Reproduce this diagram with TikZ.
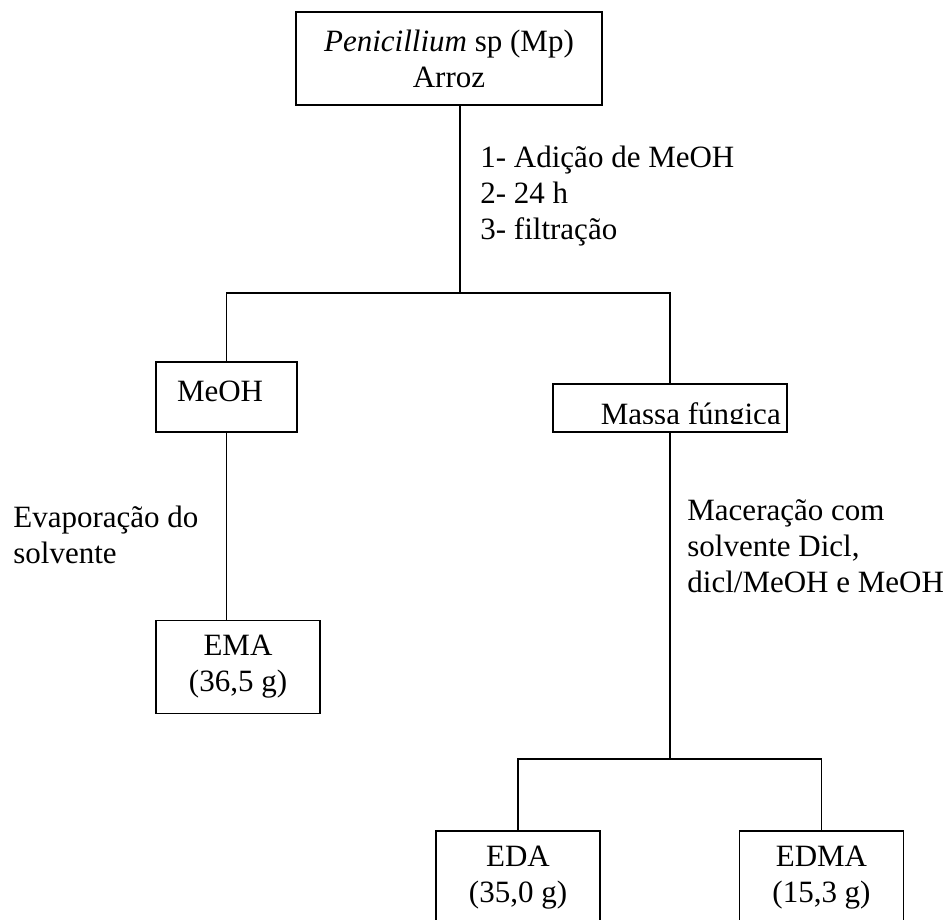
\documentclass[tikz,border=0pt]{standalone}
\usepackage{fontspec}
\setmainfont{Liberation Serif}
\usetikzlibrary{positioning,calc}

\newcommand{\flowfont}{\fontsize{15.5}{18}\selectfont}

\tikzset{
  stagebox/.style={draw, line width=0.8pt, inner sep=0pt, font=\flowfont},
  steplabel/.style={anchor=north west, inner sep=0pt, align=left, font=\flowfont},
  link/.style={line width=0.8pt},
}

\begin{document}
\begin{tikzpicture}[x=0.5pt, y=-0.5pt]
  \useasboundingbox (0,0) rectangle (949,920);
  \clip (0,0) rectangle (949,920);

  % boxes
  \node[stagebox, minimum width=153pt, minimum height=46.5pt, align=center] (cultura) at (449,58.5)
    {\textit{Penicillium} sp (Mp)\\Arroz};
  \node[stagebox, minimum width=70.5pt, minimum height=35pt, text width=49.5pt, text depth=5.5pt, align=left] (meoh) at (226.5,397)
    {MeOH};
  \node[stagebox, minimum width=117pt, minimum height=24pt,
        path picture={
          \clip ([yshift=4.5pt]path picture bounding box.south west) rectangle (path picture bounding box.north east);
          \node[anchor=base west, inner sep=0pt, font=\flowfont]
            at ([xshift=10pt, yshift=4pt]path picture bounding box.south west) {Massa fúngica};
        }] (massa) at (670,408) {};
  \node[stagebox, minimum width=82pt, minimum height=46.5pt, align=center] (ema) at (238,667)
    {EMA\\(36,5 g)};
  \node[stagebox, minimum width=82pt, minimum height=46.5pt, align=center] (eda) at (518,877.5)
    {EDA\\(35,0 g)};
  \node[stagebox, minimum width=82pt, minimum height=46.5pt, align=center] (edma) at (821.5,877.5)
    {EDMA\\(15,3 g)};

  % step texts
  \node[steplabel] (passos) at (480,146) {1- Adição de MeOH\\2- 24 h\\3- filtração};
  \node[steplabel] (evap) at (13,506) {Evaporação do\\solvente};
  \node[steplabel] (macer) at (687,499) {Maceração com\\solvente Dicl,\\dicl/MeOH e MeOH};

  % connectors
  \coordinate (ramo1) at (460,293);
  \coordinate (ramo2) at (670,759);
  \draw[link] (cultura.south -| ramo1) -- (ramo1);
  \draw[link] (meoh.north) -- (meoh.north |- ramo1) -- (massa.north |- ramo1) -- (massa.north);
  \draw[link] (meoh.south) -- (meoh.south |- ema.north);
  \draw[link] (massa.south) -- (ramo2);
  \draw[link] (eda.north) -- (eda.north |- ramo2) -- (edma.north |- ramo2) -- (edma.north);
\end{tikzpicture}
\end{document}
